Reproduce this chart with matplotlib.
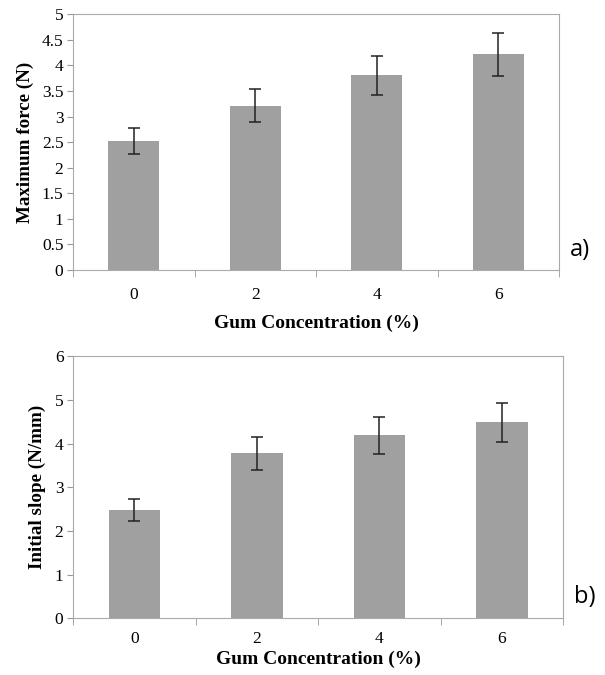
import numpy as np
import matplotlib.pyplot as plt

plt.rcParams["font.family"] = ["Liberation Serif", "DejaVu Serif"]

conc = ["0", "2", "4", "6"]
max_force = [2.52, 3.21, 3.81, 4.22]
max_force_err = [0.25, 0.32, 0.38, 0.42]
init_slope = [2.48, 3.78, 4.19, 4.49]
init_slope_err = [0.25, 0.38, 0.42, 0.45]

fig = plt.figure(figsize=(6.05, 6.75), dpi=100)
ax1 = fig.add_axes([0.121, 0.600, 0.803, 0.379])
ax2 = fig.add_axes([0.121, 0.084, 0.810, 0.388])

def panel(ax, vals, errs, ymax, step, ylabel, tag, xpad, lpad):
    x = np.arange(len(conc))
    ax.bar(x, vals, width=0.42, color="#a0a0a0", zorder=2)
    ax.errorbar(x, vals, yerr=errs, fmt="none", ecolor="#222222",
                elinewidth=1.1, capsize=4, capthick=1.1, zorder=3)
    ax.set_xlim(-0.5, len(conc) - 0.5)
    ax.set_ylim(0, ymax)
    ax.set_yticks(np.arange(0, ymax + step / 2, step))
    ax.set_yticklabels(["%g" % v for v in np.arange(0, ymax + step / 2, step)])
    ax.set_xticks(x)
    ax.set_xticklabels(conc)
    ax.set_xticks(np.arange(-0.5, len(conc), 1), minor=True)
    ax.tick_params(axis="x", which="major", length=0, labelsize=12.5, pad=xpad)
    ax.tick_params(axis="x", which="minor", length=5, color="#999999")
    ax.tick_params(axis="y", length=4, color="#999999", labelsize=12.5, pad=3)
    for s in ax.spines.values():
        s.set_color("#aaaaaa")
    ax.set_xlabel("Gum Concentration (%)", fontsize=14, fontweight="bold", labelpad=lpad)
    ax.set_ylabel(ylabel, fontsize=13.7, fontweight="bold", labelpad=6)
    ax.text(1.022, 0.08, tag, transform=ax.transAxes, fontsize=17,
            family="Open Sans", va="center", ha="left")

panel(ax1, max_force, max_force_err, 5, 0.5, "Maximum force (N)", "a)", 12, 9)
panel(ax2, init_slope, init_slope_err, 6, 1, "Initial slope (N/mm)", "b)", 9, 3)

plt.savefig("out.png", dpi=100)
